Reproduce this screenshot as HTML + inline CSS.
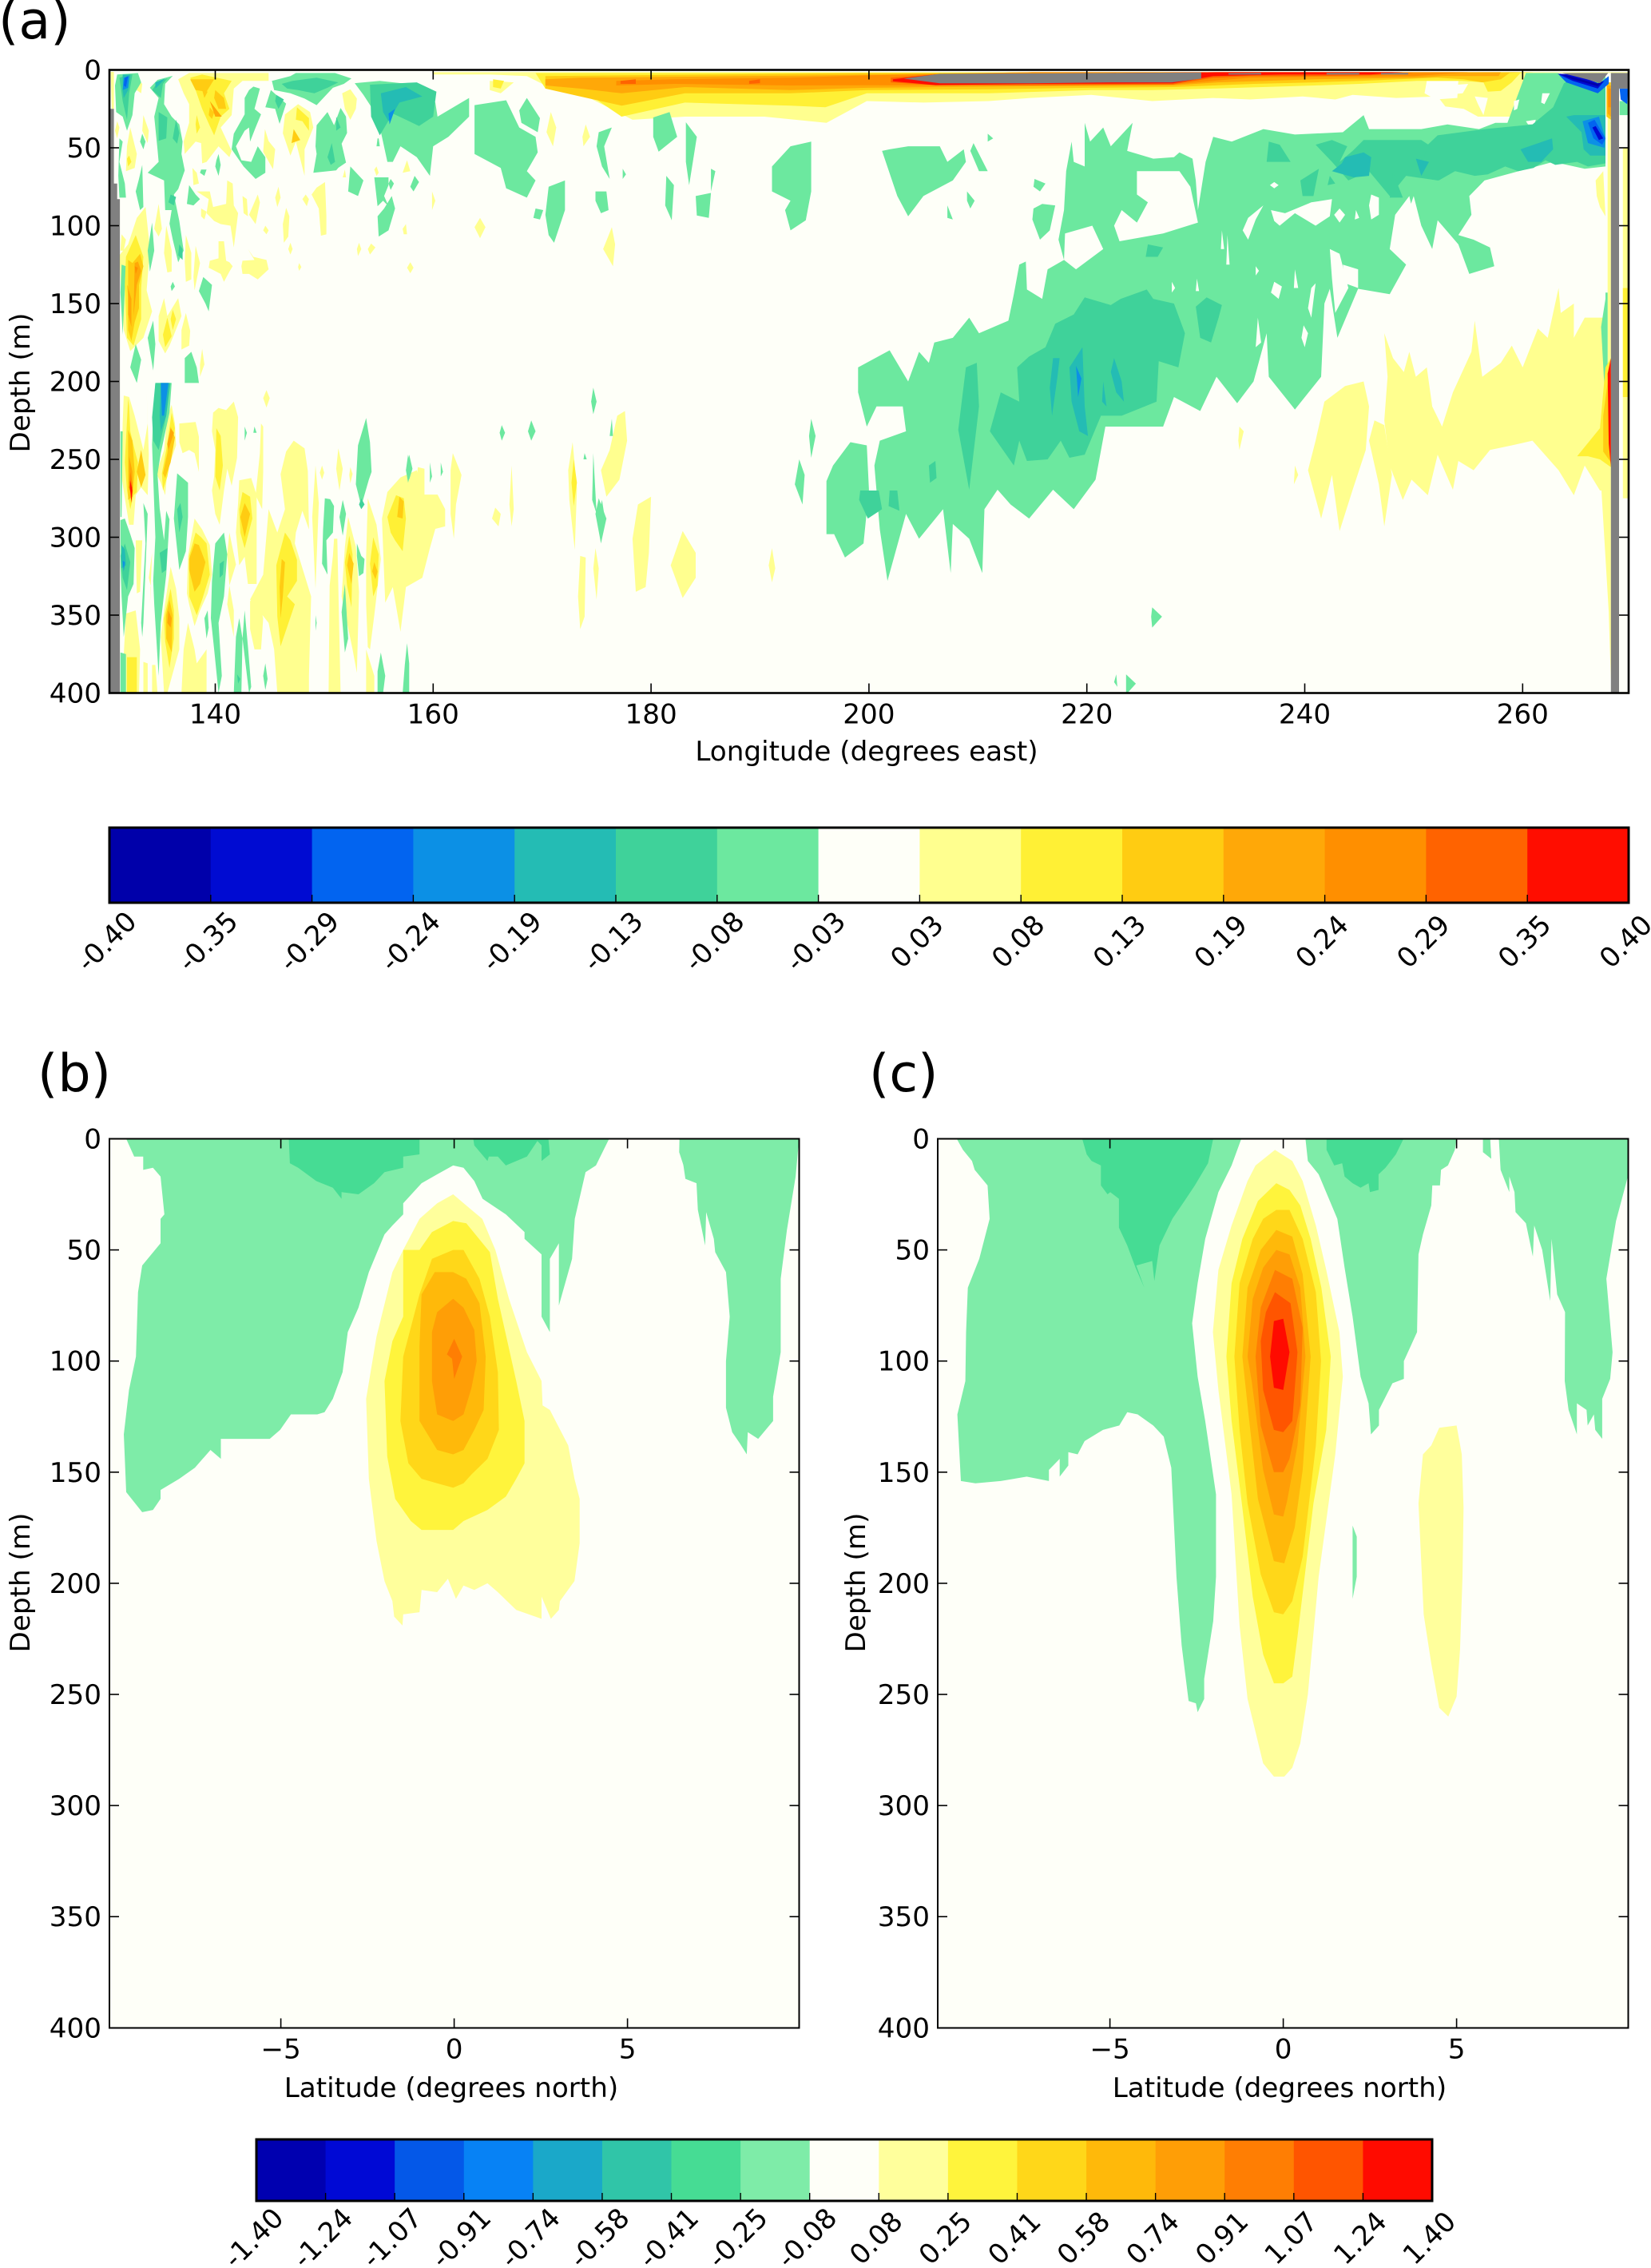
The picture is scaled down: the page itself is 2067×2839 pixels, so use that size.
<!DOCTYPE html>
<html lang="en">
<head>
<meta charset="utf-8">
<title>Ocean section contour panels</title>
<style>
html,body{margin:0;padding:0;background:#fff}
svg{display:block}
text{font-family:"DejaVu Sans","Liberation Sans",sans-serif;fill:#000}
</style>
</head>
<body>
<svg id="fig" xmlns="http://www.w3.org/2000/svg" width="2067" height="2839" viewBox="0 0 2067 2839">
<rect x="0" y="0" width="2067" height="2839" fill="#ffffff"/>
<text x="-2" y="48" font-size="65">(a)</text>
<text x="47" y="1366" font-size="65">(b)</text>
<text x="1088" y="1366" font-size="65">(c)</text>
<text x="1085" y="952" font-size="34.2" text-anchor="middle">Longitude (degrees east)</text>
<text x="37" y="479" font-size="34.2" text-anchor="middle" transform="rotate(-90 37 479)">Depth (m)</text>
<text x="565" y="2625" font-size="34.2" text-anchor="middle">Latitude (degrees north)</text>
<text x="37" y="1981" font-size="34.2" text-anchor="middle" transform="rotate(-90 37 1981)">Depth (m)</text>
<text x="1602" y="2625" font-size="34.2" text-anchor="middle">Latitude (degrees north)</text>
<text x="1083" y="1981" font-size="34.2" text-anchor="middle" transform="rotate(-90 1083 1981)">Depth (m)</text>
</svg>
<script>
/* ---------- tick labels and colour levels ---------- */
const lonTicks = [140,160,180,200,220,240,260];
const depthTicks = [0,50,100,150,200,250,300,350,400];
const latTicks = [-5,0,5];
const levelsTop = ['-0.40','-0.35','-0.29','-0.24','-0.19','-0.13','-0.08','-0.03','0.03','0.08','0.13','0.19','0.24','0.29','0.35','0.40'];
const levelsBottom = ['-1.40','-1.24','-1.07','-0.91','-0.74','-0.58','-0.41','-0.25','-0.08','0.08','0.25','0.41','0.58','0.74','0.91','1.07','1.24','1.40'];
const colorsTop = ['#0000aa','#000bd2','#0264f0','#0c90e5','#24bcb4','#3fd29a','#6ce89f','#fefff8','#ffff8f','#fff035','#ffcc12','#ffa808','#ff8f00','#ff6300','#ff0d00'];
const colorsBottom = ['#0000b0','#0009d5','#0458e8','#0782f5','#1aa8c9','#30c5a8','#46dc94','#7eeca8','#fefff8','#ffff9c','#fff43c','#ffd719','#ffb90a','#ff9e06','#ff7e03','#ff5500','#ff0b00'];

/* ---------- panel (a): contour outlines as flat [lon,depth,...] lists, one list per level ---------- */
const aPos1 = [
[159.9,1.5,271,1.5,271,2,262,2,261.7,13,260.3,20,259,30,256.6,30,255.9,30,254.6,25,252.9,23.5,252.2,17,248.4,18,244.4,16,242.8,19,239.8,17,235,19,231.6,18,226,20,220.4,16,214.8,18,211,20,205,21,199.8,20,196.1,34,190.4,30,183.1,30,178.3,32,173.5,15,170.6,11,168.6,4,165.2,3,160,3],
[130.4,1.3,130.7,1.3,130.7,25,130.5,25],
[136.6,6,137.6,2,141.5,2,144.9,2,144.9,7,142.5,7,141.7,12,141.5,29,140.5,37,141.5,52,141.3,56,140.3,49,139.2,59,138.8,60,138.7,47,138.2,46,137.2,54,137.1,46,137.6,34,137.6,22,137.1,15],
[138.3,78,139.5,78,139.8,88,141,86,141.1,71,141.6,73,141.7,87,142.1,92,141.7,114,141.4,100,140.5,99,139.9,97,139.2,92,139.4,83],
[137.9,63,138.3,66,138.5,73,138,74],
[138.7,89,139.2,91,139,96,138.7,94],
[142.5,81,142.9,83,143,94,142.6,92],[143.9,80,144.1,85,143.7,99,143.1,93],
[145.8,75,146,82,145.7,88,145.5,82],[146.5,88.5,146.8,94,146.7,107,146.3,111,146.2,99],
[144.6,100,144.9,103,144.7,105.5,144.4,103],
[149.3,75.6,150.07,72,150.2,93.6,150.2,105.6,149.7,106.4,149.5,89,148.84,80],
[148.3,80,148.6,83,148.4,87.5,148,83],
[146.9,111,147.1,115,146.9,118.5,146.7,115],
[153.2,111,153.4,115,153.1,119.5,153,115],[154.3,111.5,154.7,114,154.2,118.5,154,115],
[157.9,123.5,158.2,127,157.9,130.5,157.6,127],[157.5,99,157.6,105.5,157.3,105.5,157.2,102],[157.6,58,157.9,65,157.2,66],[154.8,62,155,66,154.8,68,154.6,64],[151.9,64,152,69,151.7,69],
[147.6,22,148.7,27,149,37,148.2,51,148.2,68,147.4,46,146.9,55,146.2,40.6,146.4,28.6],
[151.65,15,152.4,12.4,153,18.4,152.9,25,152.4,32,151.9,25],
[144.56,38,144.9,45.7,145.5,50.9,145.3,63.7,144.4,52.6],
[143,115,143.5,120,144.7,122,144.9,128,143.9,134.5,143.1,131,142.5,131,142.4,126,142.5,122.5,143.6,122],
[140.3,110,140.8,110,141,122.5,141.3,123.5,141.6,126,141.3,129.5,140.8,136,140.5,131,139.4,127,139.5,122.5,140.3,121],
[147.7,124,147.9,126.5,147.7,129,147.6,126.5],
[137.3,106,137.8,117.5,137.8,134.5,137.3,136,137.2,123],
[138.2,113,138.6,124,138.1,141.5,138,133],
[135.5,100,136,116,136,129.5,135.6,130,135.3,117.5],
[134.8,86,135.1,102,134.8,107,134.4,102],
[131,33,131.2,37,131,44,130.8,39],
[132.2,37,132.8,54,132.6,63,131.8,65,131.9,49],
[133.4,29,133.9,39,133.8,47,133.3,39],
[132.8,5,133.3,9,133.2,15,132.7,12.5],
[131.2,119,132,112,132.8,95,133.6,88,134,115,133.7,141.5,134.2,155,133.4,172,132.2,180.5,131.6,167,131.3,133],
[131.4,105.5,131.8,109,131.6,116,131.3,116],
[134.8,158,135.3,146.5,135.6,158,136.6,146.5,136.9,158,135.8,177,135.4,182,134.8,174,134.8,158],
[137.3,156,137.7,167.5,137.6,177,136.9,179.5,136.9,167],
[138.8,179,139,189,138.6,197,138.6,189],
/* lower-left */
[131.6,209,132.1,210,132.6,222,133.4,244,133.8,227,133.7,206,133.9,247,133.8,273,133.2,268,132.7,273,132.5,292,132.1,292,131.7,275,131.4,261,131.5,227],
[136,215,136.3,227,136.4,241,135.6,257.5,135.4,273,135,265,134.6,259,135.3,244,135.6,223],
[136.7,227,138.2,226,138.5,235.5,138.5,258,138.1,246,137.6,244,137,246,136.7,239],
[139.8,220,140.3,217,141,218.4,141.7,213,142.1,223,142,249,141.5,267,141.1,256,140.8,270,140.4,292,140,285,139.7,270,139.9,261,140,244,139.7,232],
[138.1,288,138.8,295,139.5,305,139.7,324,139.3,336,138.6,347,138.1,357,137.6,343,137.4,336,137.5,312],
[142.2,263.5,143.3,262,143.8,273,143.8,330,143,330,142.7,312.5,142.2,318,141.9,297,142.1,278],
[146.5,245,147.2,238,148.2,243,148.5,257.5,148.6,295,148,283,147.4,297,147.3,304,148.8,338,148.6,389,148.6,400,145.7,400,145.4,372,144.9,355,143.2,340,144.4,324,144.9,282,145.7,297,146.4,282,146,259.5],
[149.2,254,149.5,278,149.2,333,149.1,318,148.9,287],
[151.3,243,151.7,256,151.4,270,151.1,256],
[155.8,271,157,261.6,158.5,257,159,272.6,160.4,272.6,161.1,282,161.1,293,160.2,294.6,159.7,307,159,326,157.5,332,157,360.7,156.3,332,155.6,342,155.3,288],
[154,275,154.8,292,155.2,314,154.6,350,154.2,372,154,370.5,153.85,343,153.85,312.4],
[152.2,287,152.9,306,153.2,335,153,387,152.6,372,151.6,338,151.9,306],
[150.9,301,151.2,301,151.5,400,150.4,400,150.5,331,150.8,312],
[131.8,349,132.7,347,133.1,372,133,400,131.7,400,131.6,376],
[133.4,380,133.8,381,133.8,400,133.4,400],[134.2,382,134.5,382,134.7,400,134.2,400],
[135.9,319,136.4,333,136.7,352,136.7,372,135.6,400,135.3,400,135,364,135.3,347],
[132.7,302,133.3,302,133.1,335,132.8,336],
[141.3,297,141.9,317.5,141.3,331,141.1,311],
[141.3,331,141.7,347,141.7,364,141.1,343],
[144.2,227,144.4,229,144.4,258,144.3,282,143.7,273,144.1,246],
[153.85,372,154.6,389,154.6,400,153.85,400],
[158.6,255,159.2,256,159.2,275,158.4,267],
[144.7,205.6,145,210.7,144.7,216.7,144.4,210.7],
[149.8,254,150,258.6,149.8,263,149.6,258.6],
[152.4,255,152.6,259.4,152.4,265.4,152.3,260],
[137.5,355,138.1,372,138.3,381,139.2,372,139.2,400,136.9,400,137.1,372],
[143.2,341,143.9,338,144.4,352,144.2,372,143.6,372,143.2,359],
[133.9,326,134.2,310,134,343,134.1,332],
/* mid section yellows */
[172.8,239,173.2,269,173,308,172.5,276,172.4,257],
[176.9,222,177.6,219,177.8,238,177.1,263,175.9,274,175.4,257,176.2,244],
[182.9,296,184.1,310,184.1,326,182.9,339,181.8,318],
[178.8,279,180,274,179.8,310,179.5,332,178.6,335,178.3,301],
[191.1,307,191.4,320,191.1,329,190.8,318],
[173.5,312,174,313,173.9,351,173.5,359,173.3,338],[174.9,307,175.2,320,175,340,174.7,320],
[161.8,246,162.6,260,162.1,279,161.9,301,161.6,285,161.6,257],
[167.2,254,167.4,282,167.2,293,167,279],[165.7,281,166.2,285,166,293,165.4,288],
[176.4,101,176.7,112,176.5,126,175.6,115],
[164.3,95,164.8,101,164.3,108,163.8,101],
[170.8,27,171.3,37,171,49,170.4,40],[174,35,174.4,43,173.8,49,173.7,43],
[159.9,78,160.2,84,159.9,90],
[165.2,7,167.4,8,166.2,15,165.2,13],
/* right yellows */
[247.3,169,248.1,185,249.1,194,249.6,181,250.2,197,251.2,191,251.7,216,252.6,229,253.6,207,255.3,181,255.6,161,256.3,197,258,188,259,177,260,191,261.4,166,262.3,172,263.3,140,263.5,156,264.7,150,264.7,172,265.7,159,267.6,159,268.1,270,267.1,270,265.7,254,264.7,273,263.3,257,260.9,238,259,241,257,244,255.5,257,254.1,251,253.6,269.5,252.2,247,251.3,273,249.8,263,249,276,247.8,254,247.3,225,247.6,197],
[241.8,213,243.7,203,245.4,200,245.9,216,245.6,244,244.4,269.5,243.2,296,242.5,260,241.5,288,240.3,257,241,238],
[246.4,225,247.3,228,248,260,247.3,293,246.8,266,245.9,238],
[234,229,234.4,232,234,244,233.9,238],[239.1,254,239.4,260,239,266],
[266.7,71,267.4,65,267.6,94,267.1,88,266.8,81],
[267.1,254,268.1,254,268.1,392,267.9,348],
[267.8,8,268.1,8,268.1,260,267.8,260],
[269.2,50,269.8,50,269.8,275,269.2,275]
];
const aNeg1 = [
[199,191,201.9,180,203.6,200,204.6,181,205.5,188,206,175,207.7,172,209.2,159,210.1,169,212.8,161,213.3,144,213.8,125,214.4,123,214.5,141,215.9,147,216.4,128,217.9,122,217.4,109,217.9,90,218.1,65,218.6,46,218.8,59,219.8,62,219.8,34,220.3,46,221.5,37,222.2,49,224.2,34,223.7,52,226.1,57,228,56,228.5,53,229.7,57,230,71,230.2,90,230.9,59,231.6,43,233.3,46,236.2,38,239.1,41.5,243.5,40,245.4,29,245.9,38,250.7,38,253.1,35,256,38,257.5,34,260.4,34,262.8,24,263.8,8.5,267.6,8.5,267.6,62,265.7,63.5,262.8,59,256.5,71,255.1,81,255.3,93,254.1,106,255.5,109,257,114,257.4,126,255.1,131,254.1,112,252.2,96.5,251.7,115,250.7,100,250,81,249.3,95,247.8,115,249.3,125,247.8,144,244.9,140.5,243,172,242.3,140.5,241.8,150,241.5,197,239.1,218,236.7,197,236.5,169,235.3,200,233.8,214,231.9,197,230.4,219,228,210,227,229,221.7,229,220.8,263,218.8,282,216.9,269.5,214.7,288,213,279,211.8,269.5,210.6,282,210.4,323,209.2,301,207.7,291.5,207.5,323,206.8,282,204.6,301,203.4,285,201.7,328,201,295,200.5,254,201,238,203.4,232,203.1,216,200.7,216,199.8,229,199,207],
[260.3,2,263.2,2,266.9,10,267.6,4,267.6,58,262,50,260,40,258.5,36],
[196.7,254,198.3,239,199.8,241,200,269.5,199.5,304,197.8,313,196.8,298,196.1,298,196.1,264],
/* upper right of main band */
[201.2,52,201.9,51,203.6,49,206.5,49,207.2,59,208.7,51,208.9,59,207.7,71,205,81,203.6,94,202.6,81],
[209.6,47,210.9,65,210.1,65,209.3,52],[209,78,209.7,84,209.3,89,209,84],
[210.9,41,211.4,44,210.9,46],[207.2,87,207.7,96,207.2,95],
[215.9,86,217.1,87,216.6,103,215.7,109,215,96,215.1,89],
[215.2,70,216.2,73,215.7,78,215.1,75],
[267.6,147,267.6,143,267.8,143,267.8,200,267.5,203,267.2,165],
[268.9,20,269.7,20,269.7,29,268.9,29],
[223.6,388,224.5,394,223.6,401],[222.7,388,222.8,396,222.5,393],
/* mid deep blobs */
[226,345,226.9,351,226,358,225.9,351],
[174.7,204,175,213,174.7,221,174.5,213],[176.4,224,176.5,235,176.2,235],[174.7,246,175,285,174.6,276],[175.2,275,175.9,288,175.4,304,174.9,285],[173.9,246,174.1,250,173.8,250],
[166.3,228,166.6,233,166.3,238,166.1,233],[169,225,169.4,232,169,238,168.7,232],[157.7,247,158,257,157.7,265,157.5,257],[159.7,252,159.9,261,159.7,265],[160.7,252,160.9,258,160.7,261],
[193.6,250,194.1,260,193.9,279,193.2,266],[194.7,224,195.1,235,194.7,249,194.5,235],
[175.5,276,175.7,285,175.5,298,175.2,285],
/* upper-middle */
[152.8,8.5,155.1,7,159,10,160.2,21,160.4,30,163.3,18,163.3,30,161.4,43,160,49,159.7,68,158.5,56,157,49,156.3,59,155.8,59,154.9,30,153.6,16],
[163.8,22.6,166.7,19.5,167.9,37,169.4,43,169.6,53,168.6,65,169.4,71,168.6,82,166.7,76,166.2,63,163.8,54,163.8,40],
[167.9,26,168.6,18,169.8,31,169.6,40,168.1,34],
[170.6,75,172.1,71,172.1,90,171.1,111,170.6,106,170.3,93],
[169.4,89,170.1,90,169.8,96,169.2,95],
[175.2,40,176.4,37,175.7,49,176.2,70,175.5,62,175,49],
[180.2,30.5,181.7,27,182.4,43,180.7,52.5,180.2,43],
[183.2,33.6,184.2,43,183.5,74,183.2,59],
[181.4,68,182.1,74,181.9,96.5,181.3,87],
[174.9,78,175.9,78,176.1,90,175.4,92,174.9,84],
[184.1,81,185.5,79,185.3,95,184.2,93.5],
[185.5,63.5,185.9,65,185.5,78],
[191.1,62,192.8,49,194.7,46,194.7,78,194.2,96.5,192.8,103,192.3,90,192.8,84,191.1,78],
[177.4,63.5,177.7,67,177.4,70],[152.4,62,153.6,71,153.1,81,152.2,78],
/* left columns */
[131,3,132.9,2,133.2,8,132.6,15,132.4,29,131.9,39,131.5,30,130.9,27,130.8,10],
[134,11.5,134.7,6.4,136.1,3.8,135.4,9,135.3,22,136,30,136.7,35,137,46,136.9,54,137.2,64.5,136.6,76.5,136.2,80,136.7,97,137.1,116,136.6,123.5,136.1,109,135.8,98.7,136,90,135.4,90,135.3,71,133.8,66,134.8,59,134.7,51,134.4,30,134.8,18],
[131.2,44,131.5,46,131.2,59,131.7,73,131.8,82,131.2,82,131.1,68],
[133,70,133.3,61,133.4,88,133.1,90,132.7,78],
[133.3,41,133.6,46,133.4,51,133.1,46],
[137.6,74,138.2,80,138.6,83,138,87,137.4,86],
[140.3,54,140.5,61,140.3,68,140,62,140.1,58],
[138.7,64,139.2,64,139,68,138.6,66],
[143.5,10.7,144.1,12,143.6,25,144.2,28.5,143.7,37,143.2,46,143.1,37,142.7,39,141.9,49,142.4,58,143.3,59,143.9,49,144.6,56,144.6,66,143.7,70,142.6,62,141.5,51,141.7,41,142.7,28.5,142.7,18,143.1,13],
[145.1,13,146.5,21.7,145.9,34.6,145.5,25,144.6,24],
[145.2,7,146.9,4,147.4,2,151,2,152.5,5.5,151.8,9,150.8,11.5,149.3,22.6,148.2,18.4,146.9,15,145.4,13],
[150.3,27,150.9,35.5,151.5,24.4,152,30,152.1,40.5,151.6,47.4,152,59.5,151.3,62.8,151.1,64.5,149,66,149.3,54,149.2,49,149.3,35.5],
[154.9,44,155,44,155.1,49,154.8,49],
[155.2,69,155.9,69,155.9,74,155.5,81,155.9,87.5,155.4,84,154.9,87.5,154.6,69],
[156.1,70,156.4,73,156.1,77,155.9,73],
[156.2,81,156.5,89,155.9,103,155,107,154.9,94,155.5,89],
[158.3,68,158.7,72,158.2,78,157.9,75],
[138.9,133,139.7,138,139.4,155,139.1,150,138.5,142],
[136.1,136,136.3,139,136,142,135.9,139],
[134.2,98,134.4,116,134,129.5,133.8,116],
[131.4,125,131.8,126,131.5,170,131.3,143],
[134.3,161,134.5,176,134.3,193,133.8,172],
[132.7,176,133.2,186,132.8,201,132.2,191],
[137.8,181,138.3,191,138.5,201,137.2,201,137.2,185],
[134.5,201,136,201,135.8,220,135,246,134.7,259.5,134.9,281.6,135.3,302,135.5,283,135.8,288.5,135.5,324,135,355,134.8,389,134.4,343,134.3,328,134.5,300,134.2,240.6,134.3,221.8],
[136.5,259,137.5,265,137.5,287,137.3,309,136.7,321,136.2,288],
[133.4,278,133.8,285,133.4,355,133.3,364,133.2,355,133.6,304],
[131.3,289,131.7,288,132.2,298,132.6,307,132.5,330,132,338,131.6,364,131.4,338,131.3,319],
[131.3,232,131.5,232,131.4,287,131.3,287],
[140,304,140.8,297,141.1,311,140.8,338,140.3,355,140.6,389,140.3,400,139.9,372,139.6,352,139.7,328],
[139,352,139.3,347,139.4,358,139.2,365],
[142.2,352,142.5,365,142.4,400,141.7,400,141.9,364],[142.7,347,143,370,143.3,396,143.1,400,142.5,365],
[142.7,229,142.9,233,142.7,238],[143.6,229,143.8,233,143.5,233],
[153.85,223.5,154.2,239,154.35,258,154.1,263,153.4,280,152.9,266,153.1,241],
[150.06,275,150.55,275.6,150.9,280,150.8,297,150.2,302,150.3,324,149.8,317,149.9,295],
[151.7,276,152,285,151.7,299,151.4,287],
[153,304,153.4,312,153.7,314,153.6,323,153.2,325,153,312],
[151.9,330,152.2,365,151.9,374,151.6,348],
[149.2,350,149.3,355,149.2,360],
[144.6,381,144.8,391,144.6,398,144.4,389],
[155.2,374,155.6,389,155.4,400,154.9,400,154.9,386],
[157.6,368,157.8,381,157.8,400,157.2,400,157.4,382],
[157.8,247,158.1,256,157.8,263,157.6,256],
[131.3,374,131.8,375,131.8,400,131.3,400]
];
const aHoles = [
[217.9,122,218,105,220.5,100,221.5,115,219,128],
[224.6,65,228.5,65,229.5,75,230.2,98,227,105,223,110,222.5,100,223.2,90,224.6,98,225.6,85,224.6,80],
[236.9,90,238.2,92,240.6,85,242.5,83,242.3,94,241,100,239.1,92,237.7,100,237.2,97],
[243.2,89,243.7,93,243.2,98,242.7,93],[246.1,80,246.8,82,246.8,93,246.1,96,245.9,87],
[237.2,72,237.6,74,237.2,76,236.8,74],[244.7,90,245,95,244.6,96],
[234.8,95,236.2,87,235.5,96,234.8,109,234.3,103],
[242.3,115,243.2,118,244,140,242.8,156,242.5,134],[243.5,125,244.9,128,244.9,140,243.7,137],
[248.3,93,249.6,81,250.3,103,251.3,112,249.9,112,249.2,122,247.8,115],
[239.1,128,239.4,140,239,140],[237.2,136,237.9,139,237.6,147,236.9,143],[240.6,140,241,137,240.6,159,240.3,153],[239.9,164,240.3,169,240,178,239.7,172],
[235.7,159,236,175,235.5,178],[232.9,106,233.1,125,232.8,125],[232.4,103,232.6,115,232.3,115],[230.1,134,230.3,142,230,142],[227.8,136,228.1,140,227.8,143],[235.5,126,235.8,129,235.5,132],
[251.2,7,254.1,7,254,18,252,19,251,15],
[255.6,17,256.8,18,256.4,29,255.9,22],
[259.2,20,259.7,19,259.5,25,259.2,26],
[253,10,255,9,254.5,15,253,16],
[260.3,33,261.2,32,261.1,35,260.5,35],[261.8,15,262.5,15,262,22,261.7,21],
[267.6,2,267.8,2,267.8,30,267.6,30]
];
const aPos2 = [
[169.4,2,261,1.5,259.8,2,259,8,258,13.5,256.8,14,256.4,8,254.4,7,252.9,7,250.3,7,245,9,240.9,10,231.6,12,226,13,220.4,13,211,15,199.8,15,196,24,192.8,23,183.1,21,177.3,30,173.5,12,170.3,12],
[137.7,5,138.8,3,141.5,7,140.8,15,141.3,25,140.5,30,139.9,42,139.5,36,138.8,25,138.2,13],
[138.3,29,138.6,37,138.3,41,138.2,35],
[147.5,24,148.6,31,148.6,39,148,33,147.4,32],
[132.1,55,132.3,59,132,62,131.9,57],
[131.8,120,132.7,106,133.4,120,133.2,140,133.2,160,132.5,177,131.9,172,131.7,138],
[135.6,159,136,171,135.4,178,135.2,170],
[136.1,154,136.4,160,136.1,167,135.9,160],
[132,211,132.1,216,132.2,232,132.6,244,132.9,252,132.8,271,132.5,273,132.2,282,131.9,270,131.7,252],
[136,220,136.3,230,136,246,135.6,261,135.2,270,135.1,259,135.5,244],
[140.1,230,140.5,235,140.7,254,140.4,270,140,261],
[138.2,297,138.7,300,139.2,304,139.5,324,138.8,340,138.3,350,137.6,338,137.6,312],
[142.5,271,143.2,274,143.4,288,142.7,307,142.3,297,142.2,282],
[146.4,297,146.9,302,147.5,314.5,147.5,328,146.6,338,147.3,343,146,370,145.7,351,145.6,318],
[152.3,299,152.6,311,152.5,345,152.1,331,151.9,316],
[154.5,300,155,311,154.9,331,154.5,338,154.2,317],
[155.8,287,156.6,273,157.3,275,157.5,288,157.2,309,156.5,302,156.1,297],
[135.9,333,136.2,347,136.2,365,135.8,384,135.4,367,135.3,352],
[131.9,377,132.8,377,132.8,400,131.9,400],
[267.1,230,267.6,191,268.1,185,268.1,255,267.1,250,266,248,265,248],
[269.2,140,269.8,140,269.8,210,269.2,210],
[177.2,30,178,25,177.5,24],[172.9,250,173.2,265,172.9,280,172.7,265],[165.5,6,166.5,7,166.2,12,165.5,11]
];
const aNeg2 = [
[199.2,270,200.9,270,201.2,282,199.9,288,199.1,276],
[219.8,146,222.2,151,223.1,147,225.5,141,226.1,147,228,150,229,169,228.4,191,226.6,187,226.4,213,223.2,222,221.3,222,219.8,247,218.4,249,217.6,238,216.4,250,214.5,251,213.8,238,213.3,254,211.1,232,212.1,207,213.8,213,213.6,191,214.7,184,216.2,178,217.1,163,218.8,157],
[230,152,231,146,232.4,151,232.1,159,231.4,175,230.4,172],
[208.9,191,209.9,188,210.1,216,209.2,269.5,208.2,231],
[201.9,270,202.6,270,202.8,283,201.8,280],
[205.5,254,206.1,251,206.2,262,205.6,265],
[225.6,112,227,114,226.5,120,225.4,120],
[236.7,46,237.7,48,238.7,59,236.5,59],
[241,48,242.5,45,243.9,49,243.2,59,244.4,52,245.4,45,250.7,45,253.1,56,252.2,71,249.3,68,247.8,81,245.9,65,244,71,242.5,59],
[239.6,71,241.3,63.5,240.8,81,239.8,81],[242.3,68,242.8,73,242.1,74],[248.1,66,249,82,247.8,82],
[256.5,38,260.9,35,262.8,24,263.8,8.5,264.5,6,267.6,8,267.6,60,266,62,265,59,263,61,262.1,58,261,63,259.6,65,258.4,62,256.8,67,255.6,68,253.8,65,252.3,71,251.4,70,250.7,62,251.3,48,252.2,42],
[132.2,3,132.4,3,132.1,15,131.9,32,131.5,20,131.2,5],
[134.2,13,134.7,8,135.6,5.5,135.2,9,135,18],
[134.8,27,135.6,30.5,135.5,44,134.8,45.5],[136.4,32,136.7,40.5,136.5,47.4,136.1,44],[135.9,80,136.4,81.6,136.2,87,135.7,85],[136.7,112,137,115,137,122,136.6,119],
[145.6,16,146.3,19,145.8,25,145.5,20],
[146.1,9,147.1,7,149.3,5,151.3,8,150.3,11.5,149.1,15,147.6,13,146.6,12],
[150.3,56,150.7,47,151,59,150.6,61],[151.1,30,151.5,37,151.1,39],
[154.2,9.5,158.5,8,160.3,14,160,30,158.7,36,156.3,28,155.1,42,154.3,30],
[134.5,201,135.9,201,135.5,222,134.8,244,134.3,238,134.2,223],
[134.9,310,135.6,307,135.5,321,135.1,323],
[136.5,282,136.8,278,137,287,136.7,297],
[131.3,312,131.7,304,132.2,316,131.9,334,131.5,326],
[140.4,317,140.8,315,140.7,324,140.4,326],
[142,388,142.3,391,142.1,394],
[153.4,275,153.7,279,153.4,282,153.2,279]
];
const aPos3 = [
[170.3,4,200,2,260,1.5,258.8,2,258,6,256.3,8,254.6,6,252.2,5,245,7,240.9,8,235.3,9,227.9,11,220,11.5,211,12.4,199.8,13,192.8,15,183.1,15,177.3,23,173.5,17,170.3,12],
[137.7,6,139.9,6,139.2,14,138.2,13],[140,13,140.8,18,141,25,140.3,25,139.9,18],[139.5,24,139.9,27.5,139.7,31.5,139.4,29],[138.8,13,139.3,14,139,18],
[132,122,132.4,124,133.1,118,133.4,126,133,138,133,153,132.6,162,132.3,174,132,167],
[131.9,138,132.4,143,132.4,160,132.1,153],
[132,231,132.4,238,132.6,258,132.4,274,132,276],[133.2,244,133.6,260,133.2,268,132.8,258],
[135.9,229,136.3,236,135.9,252,135.4,262,135.2,259,135.6,246],
[138.1,304,138.5,305,139.1,316,138.6,330,138.1,335,137.6,321,137.6,314],
[142.7,278,143.2,285,142.7,300,142.3,287],
[146.1,314,146.4,316,146.2,338,146,352,145.9,332],
[152.3,310,152.7,317,152.5,330,152.1,318],[154.6,316,154.9,322,154.7,327,154.4,322],
[156.9,274,157.3,277,157.2,288,156.7,287],
[135.8,340,136.1,350,136,374,135.5,365,135.5,350],
[147.2,38,147.8,45,147,47],
[267.4,222,267.9,195,268.1,195,268.1,252,267.4,245],
[267.7,8,268.1,8,268.1,32,267.7,30]
];
const aNeg3 = [
[216.9,185,217.5,185,217.3,197,216.8,222,216.6,204],[218.4,191,219.6,178,219.8,216,220.1,235,219.3,232,218.6,213],[222.5,185,223.2,200,223.4,213,222.7,207,222.2,194],[221.5,200,221.8,216,221.4,213],
[243.7,56,245.4,53,246.1,56,245.9,68,244.5,69,242.5,65,243.4,60],[250.2,57,251.4,59,250.7,68],
[264.7,29,267.6,29,267.6,55,266.2,55,265.6,51,265.4,40,264,30],
[259.8,51,262.7,44,262.8,51,261.7,59,260.5,59],
[131.5,3,132.2,3,132,13,131.6,18,131.5,13],
[134.5,8,135.4,5.5,134.8,10,134.5,12],
[155.2,15,157.5,11,159,17,156.9,21,155.9,33,155.4,27],
[135,201,135.8,201,135.5,222,135,232,134.9,222],[131.4,305,131.7,308,131.8,318,131.4,320]
];
const aPos4 = [
[170.3,6,173.5,5,196,3.5,215,1.5,250,1.5,258,1.5,257.8,4,255.1,4,252.7,4,250,5,240.9,6,232,8,227.9,10,214.8,10.5,199.8,11.5,192.8,13,183.1,11,177.3,15,173.5,12,170.3,10],
[132.6,124,132.9,123,133.2,129,132.8,138,132.5,158],[132,140,132.3,147,132.3,165,132,157],
[135.9,230,136.2,233,135.7,244,135.6,240],[135.7,347,136,352,135.9,358,135.6,355],
[132.1,248,132.4,258,132.4,272,132.1,268],
[139.5,20,140.6,30,140,30],
[267.75,10,268.1,10,268.1,30,267.8,28]
];
const aNeg4 = [
[219,190,219.5,198,219.2,210],
[265.5,33,267,30,267.6,44,267.5,50,266,47],
[131.6,5,132.1,4,132,11.5,131.5,13],
[135,201,135.7,201,135.3,222,135.1,222],[131.5,315,131.7,316,131.6,322],[155.9,28,156.5,25,156,35]
];
const aPos5 = [
[176.8,7,182,6,192.8,5,200,3.5,215,1.5,255,1.5,250,4,240.9,4.5,235,5,231.6,7,227.9,9.5,214.8,10,199.8,9.8,192.8,10,182.2,9,176.8,10],
[132.6,126,132.9,127,132.7,131],[132.2,258,132.4,265,132.3,272,132.1,265],
[267.85,12,268.1,12,268.1,24,267.85,24]
];
const aNeg5 = [
[266,34,266.6,32,267.6,44,267.3,48,266.5,44],[131.7,5,132,4,131.8,11,131.6,10],
[263.3,3,266.8,10,267.9,4,267.9,9,266.9,15,264,8],[268.9,12,269.7,12,269.6,22,269,19]
];
const aPos6 = [
[177.2,7,178.6,6,178.6,9,177.2,9],[189,7,190,6,190,8.5,189,9],
[202,5,206.1,3,232,1.5,248,1.5,250,2,246,3.5,240,4,235,4,231.6,5,227.9,9.3,214.8,9.8,206.1,9.8,202,8],
[132.2,263,132.4,268,132.3,273,132.1,268]
];
const aNeg6 = [[263.2,2.5,265,3,266.9,8.5,267.5,7,266.9,12,264.6,7],[266.4,37,266.7,36,267.4,44,267,45]];
const aPos7 = [
[202.2,6,206,3,232,1.5,249,1.5,246,3,238,3,231.6,4,227.9,8.6,214.8,9,206.1,9.8,202.2,7.3],
[132.2,264,132.4,270,132.3,278,132.2,270],
[267.8,195,268.1,185,268.1,255,267.9,240]
];
const aNeg7 = [[263.4,2.3,266.9,9,267.4,7,266.9,10.5,264.6,6]];
const aMask = [
[203.2,5.6,206.5,2.5,230.5,1.7,230.5,5.6,227.8,8,222.2,8,214.8,8.6,206.5,8.6],
[130.3,25,130.7,25,130.7,73,131,73,131,83,131.25,83,131.25,400,130.3,400],
[268.1,2,268.85,2,268.85,400,268.1,400],[268.85,2,269.7,2,269.7,12,268.85,12],
[263.6,2,267.85,2,267.1,8.5,265.9,6,263.6,2],
[233,2.2,236,2,236,3,233,3],[242,2,245,2,245,3,242,3],[247,2,249.5,2,249.5,3,247,3]
];

/* ---------- panel (b): contour outlines as flat [lat,depth,...] lists ---------- */
const bNeg1 = [
[-9.46,0,4.47,0,4.09,12,3.79,15,3.48,36,3.4,54,3.02,75,3.02,47,2.76,54,2.76,87,2.52,80,2.52,52,2.03,45,2.03,42,1.49,34,0.82,27,0.58,19,0.27,13,-0.03,12,-0.49,16,-0.94,20,-1.47,29,-1.47,34,-1.78,39,-2.01,43,-2.46,60,-2.76,76,-3.07,87,-3.22,105,-3.5,117,-3.74,123,-3.95,124,-4.71,124,-5.02,131,-5.32,135,-6.73,135,-6.73,144,-7.03,140,-7.48,148,-7.93,153,-8.47,158,-8.47,162,-8.69,167,-9,168,-9.46,159,-9.53,133,-9.38,113,-9.18,98,-9.12,69,-9,57,-8.47,47,-8.47,36,-8.36,34,-8.47,17,-8.69,13,-8.97,14,-8.97,8,-9.23,8],
[6.5,0,6.7,0,6.68,15,6.49,6],
[6.5,0,9.95,0,9.85,17,9.6,41,9.42,63,9.42,96,9.2,116,9.2,127,8.77,135,8.47,132,8.44,142,8.24,137,8.02,132,7.84,121,7.84,100,7.95,80,7.84,60,7.53,51,7.49,45,7.27,33,7.24,48,7.03,32,6.99,20,6.67,18]
];
const bNeg2 = [
[-4.77,0,-1,0,-1,7,-1.47,8,-1.47,13,-2.01,15,-2.31,20,-2.76,25,-3.25,24,-3.25,27,-3.5,22,-3.98,19,-4.5,13,-4.74,11],
[0.55,0,2.72,0,2.76,7,2.52,10,2.52,3,2.4,1,2.1,8,1.49,12,1.26,8,1,8,0.96,10,0.58,3]
];
const bPos1 = [
[-0.03,25,0.5,32,0.81,36,1.19,50,1.58,72,2.1,96,2.52,109,2.55,120,2.76,122,3.29,138,3.47,153,3.62,162,3.62,182,3.47,199,3.05,208,3.02,212,2.79,216,2.52,206,2.52,216,1.79,212,1.26,204,0.96,200,0.58,203,0.27,201,0.05,207,-0.18,198,-0.49,204,-0.94,203,-1,213,-1.47,214,-1.49,219,-1.73,215,-1.78,208,-2.01,199,-2.24,181,-2.46,153,-2.54,117,-2.24,89,-1.78,60,-1.47,50,-1,36,-0.49,29],
];
const bPos2 = [
[-0.03,37,0.35,38,1.03,51,1.26,72,1.79,109,2.03,127,2.03,146,1.79,153,1.49,161,0.96,167,0.27,172,-0.03,176,-0.94,176,-1.25,172,-1.7,162,-1.93,143,-2.01,109,-1.78,91,-1.47,80,-1.47,50,-1,50,-0.64,42]
];
const bPos3 = [
[-0.03,50,0.27,50,0.73,63,1.03,80,1.26,105,1.29,131,0.96,144,0.5,151,0.27,155,-0.03,157,-0.49,155,-0.94,153,-1.32,146,-1.55,127,-1.47,98,-1,70,-0.64,54]
];
const bPos4 = [
[-0.03,60,0.35,63,0.73,74,0.91,98,0.85,122,0.58,131,0.27,140,-0.03,142,-0.49,140,-1,127,-1,93,-0.94,70,-0.56,60]
];
const bPos5 = [
[-0.03,72,0.27,76,0.58,86,0.65,100,0.5,112,0.27,124,-0.03,127,-0.49,124,-0.64,109,-0.64,87,-0.49,78]
];
const bPos6 = [[0,90,0.23,98,0,108,-0.06,99,-0.21,97]];

/* ---------- panel (c): contour outlines as flat [lat,depth,...] lists ---------- */
const cNeg1 = [
[-9.42,0,-1.21,0,-1.49,12,-1.87,24,-2.25,45,-2.47,65,-2.63,83,-2.47,107,-2.25,127,-1.94,160,-1.94,197,-2.02,217,-2.28,243,-2.28,252,-2.47,258,-2.52,254,-2.73,253,-2.93,228,-3.08,197,-3.23,148,-3.45,134,-3.75,129,-4.2,124,-4.5,123,-4.73,129,-5.2,131,-5.73,136,-5.93,142,-6.2,141,-6.2,147,-6.45,152,-6.45,144,-6.76,149,-6.76,154,-7.4,152,-8.15,154,-8.88,155,-9.3,154,-9.4,124,-9.17,109,-9.15,87,-9.1,67,-8.77,54,-8.47,36,-8.53,21,-8.9,14,-8.98,10,-9.24,5],
[0.64,0,5,0,4.95,5,4.75,12,4.55,14,4.52,21,4.3,21,4.27,30,4.03,43,3.9,52,3.86,87,3.48,100,3.48,108,3.15,110,2.76,122,2.76,129,2.53,133,2.46,119,2.23,107,2.0,80,1.77,58,1.56,36,1.02,16,0.71,10],
[6.22,0,9.94,0,9.94,17,9.6,37,9.32,63,9.5,96,9.43,108,9.2,117,9.2,135,9,131,8.96,124,8.78,129,8.75,122,8.47,119,8.47,133,8.23,122,8.12,109,8.13,78,7.9,70,7.74,45,7.7,73,7.47,50,7.24,39,7.2,53,7,38,6.7,33,6.67,24,6.52,17,6.52,24,6.27,14],
[5.76,0,5.97,0,6,9,5.76,6],
[2,174,2.12,179,2.12,197,2.0,207,2,193]
];
const cNeg2 = [
[-5.8,0,-2.02,0,-2.17,11,-2.55,21,-2.85,28,-3.2,36,-3.57,48,-3.72,64,-3.78,55,-4.24,57,-4.01,67,-4.26,58,-4.5,48,-4.74,40,-4.74,27,-4.99,24,-5.07,25,-5.26,21,-5.26,12,-5.53,10,-5.67,7],
[1.25,0,3.47,0,3.25,7,2.95,13,2.75,16,2.75,23,2.5,24,2.46,20,2.23,22,2,20,1.77,17,1.7,11,1.47,12,1.25,5]
];
const cPos1 = [
[-0.24,5,0.26,10,0.56,19,0.94,39,1.24,59,1.62,87,1.72,107,1.5,142,1.02,197,0.71,250,0.49,272,0.26,283,0.03,287,-0.27,287,-0.58,281,-1.03,252,-1.26,219,-1.49,160,-1.87,113,-2.03,87,-1.87,59,-1.49,39,-1.03,19,-0.8,12],
[4.5,130,5,129,5.15,142,5.2,166,5.17,197,5.1,230,5,251,4.76,260,4.5,256,4.27,236,4.05,214,3.9,164,4.03,142,4.27,138]
];
const cPos2 = [
[-0.2,20,0.18,23,0.49,30,0.79,45,1.1,67,1.37,98,1.24,131,0.87,164,0.41,224,0.26,242,0,245,-0.27,245,-0.58,232,-0.88,206,-1.18,166,-1.49,127,-1.64,98,-1.49,65,-1.18,45,-0.73,28]
];
const cPos3 = [
[-0.2,32,0.18,32,0.56,45,0.94,69,1.09,100,0.94,138,0.56,188,0.26,208,0,214,-0.27,213,-0.65,196,-1.03,164,-1.26,131,-1.41,98,-1.26,65,-0.88,45,-0.58,36]
];
const cPos4 = [
[-0.2,41,0.26,44,0.56,61,0.79,98,0.56,149,0.33,175,0.03,191,-0.27,190,-0.73,162,-1.03,120,-1.18,98,-1.03,67,-0.65,50]
];
const cPos5 = [
[-0.2,50,0.18,52,0.49,67,0.64,98,0.41,138,0.11,163,0,170,-0.27,169,-0.58,149,-0.91,109,-1.03,98,-0.88,72,-0.58,58]
];
const cPos6 = [
[-0.24,59,0.26,63,0.56,85,0.49,120,0.18,144,0,150,-0.27,150,-0.65,129,-0.8,98,-0.65,76]
];
const cPos7 = [
[-0.24,69,0.21,74,0.41,96,0.26,127,0,132,-0.27,131,-0.58,113,-0.65,91,-0.5,78]
];
const cPos8 = [
[-0.27,82,0,81,0.18,96,0,113,-0.27,112,-0.38,98]
];

/* ---------- axis functions ---------- */
const xA = lon => 269.5 + (lon - 140) * 13.64;
const yA = d => 87.5 + d * 1.95;
const xB = lat => 568.6 + lat * 43.4;
const xC = lat => 1606.6 + lat * 43.4;
const yBC = d => 1425.5 + d * 2.782;
const NS = 'http://www.w3.org/2000/svg';
const fig = document.getElementById('fig');

function makeClip(id, x0, y0, x1, y1) {
  const cp = document.createElementNS(NS, 'clipPath');
  cp.setAttribute('id', id);
  const r = document.createElementNS(NS, 'rect');
  r.setAttribute('x', x0); r.setAttribute('y', y0);
  r.setAttribute('width', x1 - x0); r.setAttribute('height', y1 - y0);
  cp.appendChild(r);
  fig.appendChild(cp);
}
function drawBand(parent, polys, fill, xf, yf) {
  polys.forEach(p => {
    let d = '';
    for (let i = 0; i + 1 < p.length; i += 2) {
      d += (i ? 'L' : 'M') + xf(p[i]).toFixed(1) + ' ' + yf(p[i + 1]).toFixed(1);
    }
    const el = document.createElementNS(NS, 'path');
    el.setAttribute('d', d + 'Z');
    el.setAttribute('fill', fill);
    
    
    parent.appendChild(el);
  });
}
function drawLine(x1, y1, x2, y2, w) {
  const l = document.createElementNS(NS, 'line');
  l.setAttribute('x1', x1); l.setAttribute('y1', y1);
  l.setAttribute('x2', x2); l.setAttribute('y2', y2);
  l.setAttribute('stroke', '#000'); l.setAttribute('stroke-width', w);
  
  
  fig.appendChild(l);
}
function drawLabel(x, y, str, anchor) {
  const t = document.createElementNS(NS, 'text');
  t.setAttribute('x', x); t.setAttribute('y', y);
  t.setAttribute('font-size', 34.2);
  t.setAttribute('text-anchor', anchor);
  t.textContent = str;
  
  
  fig.appendChild(t);
}
function drawFrame(x0, y0, x1, y1, w) {
  const r = document.createElementNS(NS, 'rect');
  r.setAttribute('x', x0); r.setAttribute('y', y0);
  r.setAttribute('width', x1 - x0); r.setAttribute('height', y1 - y0);
  r.setAttribute('fill', 'none'); r.setAttribute('stroke', '#000');
  r.setAttribute('stroke-width', w);
  
  
  fig.appendChild(r);
}
function drawPanel(id, box, bands, xf, yf, xTicks, xFmt, labelRight, frameW) {
  const [x0, y0, x1, y1] = box;
  makeClip(id, x0, y0, x1, y1);
  const g = document.createElementNS(NS, 'g');
  g.setAttribute('clip-path', 'url(#' + id + ')');
  
  
  fig.appendChild(g);
  const bg = document.createElementNS(NS, 'rect');
  bg.setAttribute('x', x0); bg.setAttribute('y', y0);
  bg.setAttribute('width', x1 - x0); bg.setAttribute('height', y1 - y0);
  bg.setAttribute('fill', '#fefff8');
  
  
  g.appendChild(bg);
  bands.forEach(b => drawBand(g, b[0], b[1], xf, yf));
  xTicks.forEach(v => {
    const x = xf(v);
    drawLine(x, y0, x, y0 + 12, 1.6);
    drawLine(x, y1, x, y1 - 12, 1.6);
    drawLabel(x, y1 + 38, xFmt(v), 'middle');
  });
  depthTicks.forEach(v => {
    const y = yf(v);
    drawLine(x0, y, x0 + 12, y, 1.6);
    drawLine(x1, y, x1 - 12, y, 1.6);
    drawLabel(labelRight, y + 12, String(v), 'end');
  });
  drawFrame(x0, y0, x1, y1, frameW);
}
function drawColorbar(box, colors, labels, labelY) {
  const [x0, y0, x1, y1] = box;
  const step = (x1 - x0) / colors.length;
  colors.forEach((c, i) => {
    const r = document.createElementNS(NS, 'rect');
    r.setAttribute('x', x0 + i * step); r.setAttribute('y', y0);
    r.setAttribute('width', step + 0.5); r.setAttribute('height', y1 - y0);
    r.setAttribute('fill', c);
    
    
    fig.appendChild(r);
  });
  labels.forEach((s, i) => {
    const x = x0 + i * step;
    drawLine(x, y1, x, y1 - 10, 1.4);
    const lx = x - 3;
    const t = document.createElementNS(NS, 'text');
    t.setAttribute('x', lx); t.setAttribute('y', labelY);
    t.setAttribute('font-size', 34.2);
    t.setAttribute('text-anchor', 'middle');
    t.setAttribute('dominant-baseline', 'central');
    t.setAttribute('transform', 'rotate(-45 ' + lx + ' ' + labelY + ')');
    t.textContent = s;
    
    
    fig.appendChild(t);
  });
  drawFrame(x0, y0, x1, y1, 3);
}

const cT = colorsTop, cB = colorsBottom, plain = '#fefff8', gray = '#808080';
drawPanel('clipA', [137, 87.5, 2039, 867.5], [
  [aPos1, cT[8]], [aNeg1, cT[6]], [aHoles, plain], [aPos2, cT[9]], [aNeg2, cT[5]], [aPos3, cT[10]], [aNeg3, cT[4]],
  [aPos4, cT[11]], [aNeg4, cT[3]], [aPos5, cT[12]], [aNeg5, cT[2]], [aPos6, cT[13]], [aNeg6, cT[1]], [aPos7, cT[14]], [aNeg7, cT[0]], [aMask, gray]
], xA, yA, lonTicks, v => String(v), 127, 2.6);
drawPanel('clipB', [137, 1425.5, 1000.5, 2538.5], [
  [bNeg1, cB[7]], [bNeg2, cB[6]], [bPos1, cB[9]], [bPos2, cB[10]], [bPos3, cB[11]], [bPos4, cB[12]], [bPos5, cB[13]], [bPos6, cB[14]]
], xB, yBC, latTicks, v => String(v).replace('-', '\u2212'), 127, 2);
drawPanel('clipC', [1174, 1425.5, 2038.5, 2538.5], [
  [cNeg1, cB[7]], [cNeg2, cB[6]], [cPos1, cB[9]], [cPos2, cB[10]], [cPos3, cB[11]], [cPos4, cB[12]], [cPos5, cB[13]], [cPos6, cB[14]], [cPos7, cB[15]], [cPos8, cB[16]]
], xC, yBC, latTicks, v => String(v).replace('-', '\u2212'), 1164, 2);
drawColorbar([137, 1036, 2039, 1130], colorsTop, levelsTop, 1179);
drawColorbar([321, 2678, 1793, 2755], colorsBottom, levelsBottom, 2802);
</script>
</body>
</html>
